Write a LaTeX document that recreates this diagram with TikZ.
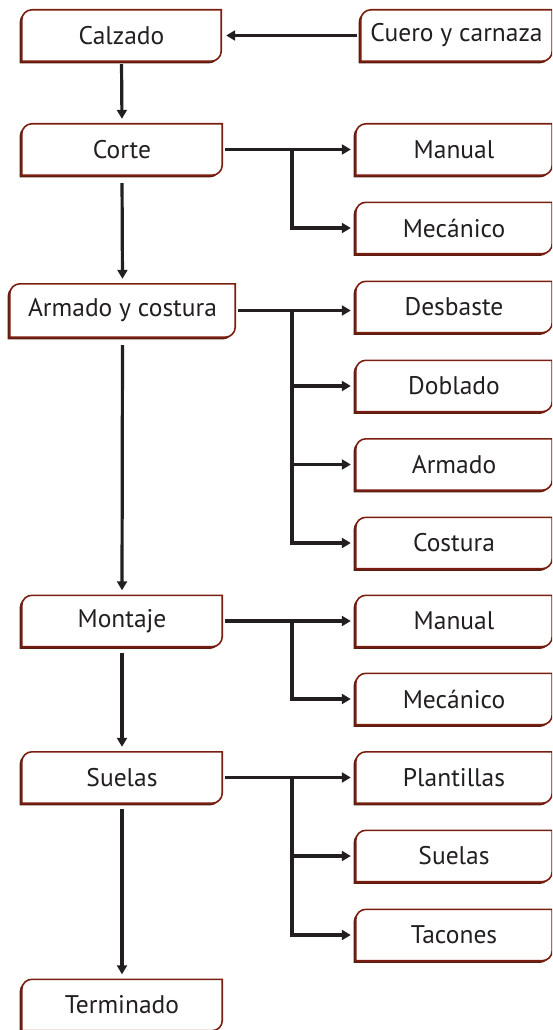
\documentclass[tikz,border=0pt]{standalone}
\usepackage{fontspec}
\setmainfont{PT Sans}
\usetikzlibrary{arrows.meta,calc}

\definecolor{rim}{RGB}{122,30,16}
\definecolor{rimshade}{RGB}{92,28,18}
\definecolor{ink}{RGB}{35,31,32}

% Outline of a box: rounded top-left and bottom-right corners, square elsewhere.
% #1 node name, #2/#3 offset
\newcommand\shoeoutline[3]{%
  ($(#1.south west)+(#2,#3)$)
  -- ($(#1.north west)+(#2,#3)+(0,10)$)
  .. controls ($(#1.north west)+(#2,#3)+(0,4.5)$) and ($(#1.north west)+(#2,#3)+(4.5,0)$)
  .. ($(#1.north west)+(#2,#3)+(10,0)$)
  -- ($(#1.north east)+(#2,#3)$)
  -- ($(#1.south east)+(#2,#3)+(0,-10)$)
  .. controls ($(#1.south east)+(#2,#3)+(0,-4.5)$) and ($(#1.south east)+(#2,#3)+(-4.5,0)$)
  .. ($(#1.south east)+(#2,#3)+(-10,0)$)
  -- cycle}

\newcommand\shoebox[1]{%
  \fill[rimshade] \shoeoutline{#1}{-2.2}{2.2};
  \filldraw[fill=white,draw=rim,line width=1.6pt] \shoeoutline{#1}{0}{0};
}

\begin{document}
\begin{tikzpicture}[x=1pt,y=-1pt,
  stage/.style={rectangle,inner sep=0pt,minimum height=51pt,text=ink,font=\fontsize{25.5}{28}\selectfont},
  wire/.style={draw=ink,line width=3.2pt},
  arr/.style={wire,-{Triangle[length=9pt,width=10pt]},shorten >=5pt,shorten <=3pt}]
\useasboundingbox (0,0) rectangle (552,1030);
\clip (0,0) rectangle (552,1030);

% main process column
\node[stage,minimum width=199pt] (calzado) at (121.5,35.5) {};
\node[stage,minimum width=200pt] (corte)   at (122,149.5) {};
\node[stage,minimum width=225pt,minimum height=53pt] (armado) at (122.5,310.5) {};
\node[stage,minimum width=200pt] (montaje) at (122,621) {};
\node[stage,minimum width=200pt] (suelas)  at (122,777.5) {};
\node[stage,minimum width=200pt] (terminado) at (122,1005) {};

% sub-operations column
\node[stage,minimum width=191pt] (cuero) at (456.5,35.5) {};
\node[stage,minimum width=196pt] (manual1) at (454,149.5) {};
\node[stage,minimum width=196pt] (mecanico1) at (454,228) {};
\node[stage,minimum width=196pt] (desbaste) at (454,307) {};
\node[stage,minimum width=196pt] (doblado) at (454,386) {};
\node[stage,minimum width=196pt] (armado2) at (454,464.5) {};
\node[stage,minimum width=196pt] (costura) at (454,543) {};
\node[stage,minimum width=196pt] (manual2) at (454,621) {};
\node[stage,minimum width=196pt] (mecanico2) at (454,699) {};
\node[stage,minimum width=196pt] (plantillas) at (454,777.5) {};
\node[stage,minimum width=196pt] (suelas2) at (454,856) {};
\node[stage,minimum width=196pt] (tacones) at (454,935) {};

\foreach \n in {calzado,corte,armado,montaje,suelas,terminado,cuero,manual1,mecanico1,
  desbaste,doblado,armado2,costura,manual2,mecanico2,plantillas,suelas2,tacones}{\shoebox{\n}}

\node[stage] at (calzado) {Calzado};
\node[stage] at (corte) {Corte};
\node[stage] at (armado) {Armado y costura};
\node[stage] at (montaje) {Montaje};
\node[stage] at (suelas) {Suelas};
\node[stage] at (terminado) {Terminado};
\node[stage] at (cuero) {Cuero y carnaza};
\node[stage] at (manual1) {Manual};
\node[stage] at (mecanico1) {Mecánico};
\node[stage] at (desbaste) {Desbaste};
\node[stage] at (doblado) {Doblado};
\node[stage] at (armado2) {Armado};
\node[stage] at (costura) {Costura};
\node[stage] at (manual2) {Manual};
\node[stage] at (mecanico2) {Mecánico};
\node[stage] at (plantillas) {Plantillas};
\node[stage] at (suelas2) {Suelas};
\node[stage] at (tacones) {Tacones};

% main flow
\draw[arr,shorten <=4pt] (cuero.west) -- (calzado.east);
\draw[arr] (calzado.south) -- (corte.north);
\draw[arr,shorten <=8pt] (corte.south) -- (armado.north);
\draw[arr,shorten <=8pt] (armado.south) -- (montaje.north);
\draw[arr,shorten <=6pt] (montaje.south) -- (suelas.north);
\draw[arr,shorten <=6pt] (suelas.south) -- (terminado.north);

% branch spines
\coordinate (s1) at (292,149.5);
\coordinate (s2) at (292,310.5);
\coordinate (s3) at (292,621);
\coordinate (s4) at (292,777.5);

\draw[arr] (corte.east) -- (manual1.west);
\draw[arr,shorten <=0pt] (s1) |- (mecanico1.west);

\draw[arr] (armado.east) -- (armado.east -| desbaste.west);
\draw[arr,shorten <=0pt] (s2) |- (doblado.west);
\draw[arr,shorten <=0pt] (s2) |- (armado2.west);
\draw[arr,shorten <=0pt] (s2) |- (costura.west);

\draw[arr] (montaje.east) -- (manual2.west);
\draw[arr,shorten <=0pt] (s3) |- (mecanico2.west);

\draw[arr] (suelas.east) -- (plantillas.west);
\draw[arr,shorten <=0pt] (s4) |- (suelas2.west);
\draw[arr,shorten <=0pt] (s4) |- (tacones.west);
\end{tikzpicture}
\end{document}
